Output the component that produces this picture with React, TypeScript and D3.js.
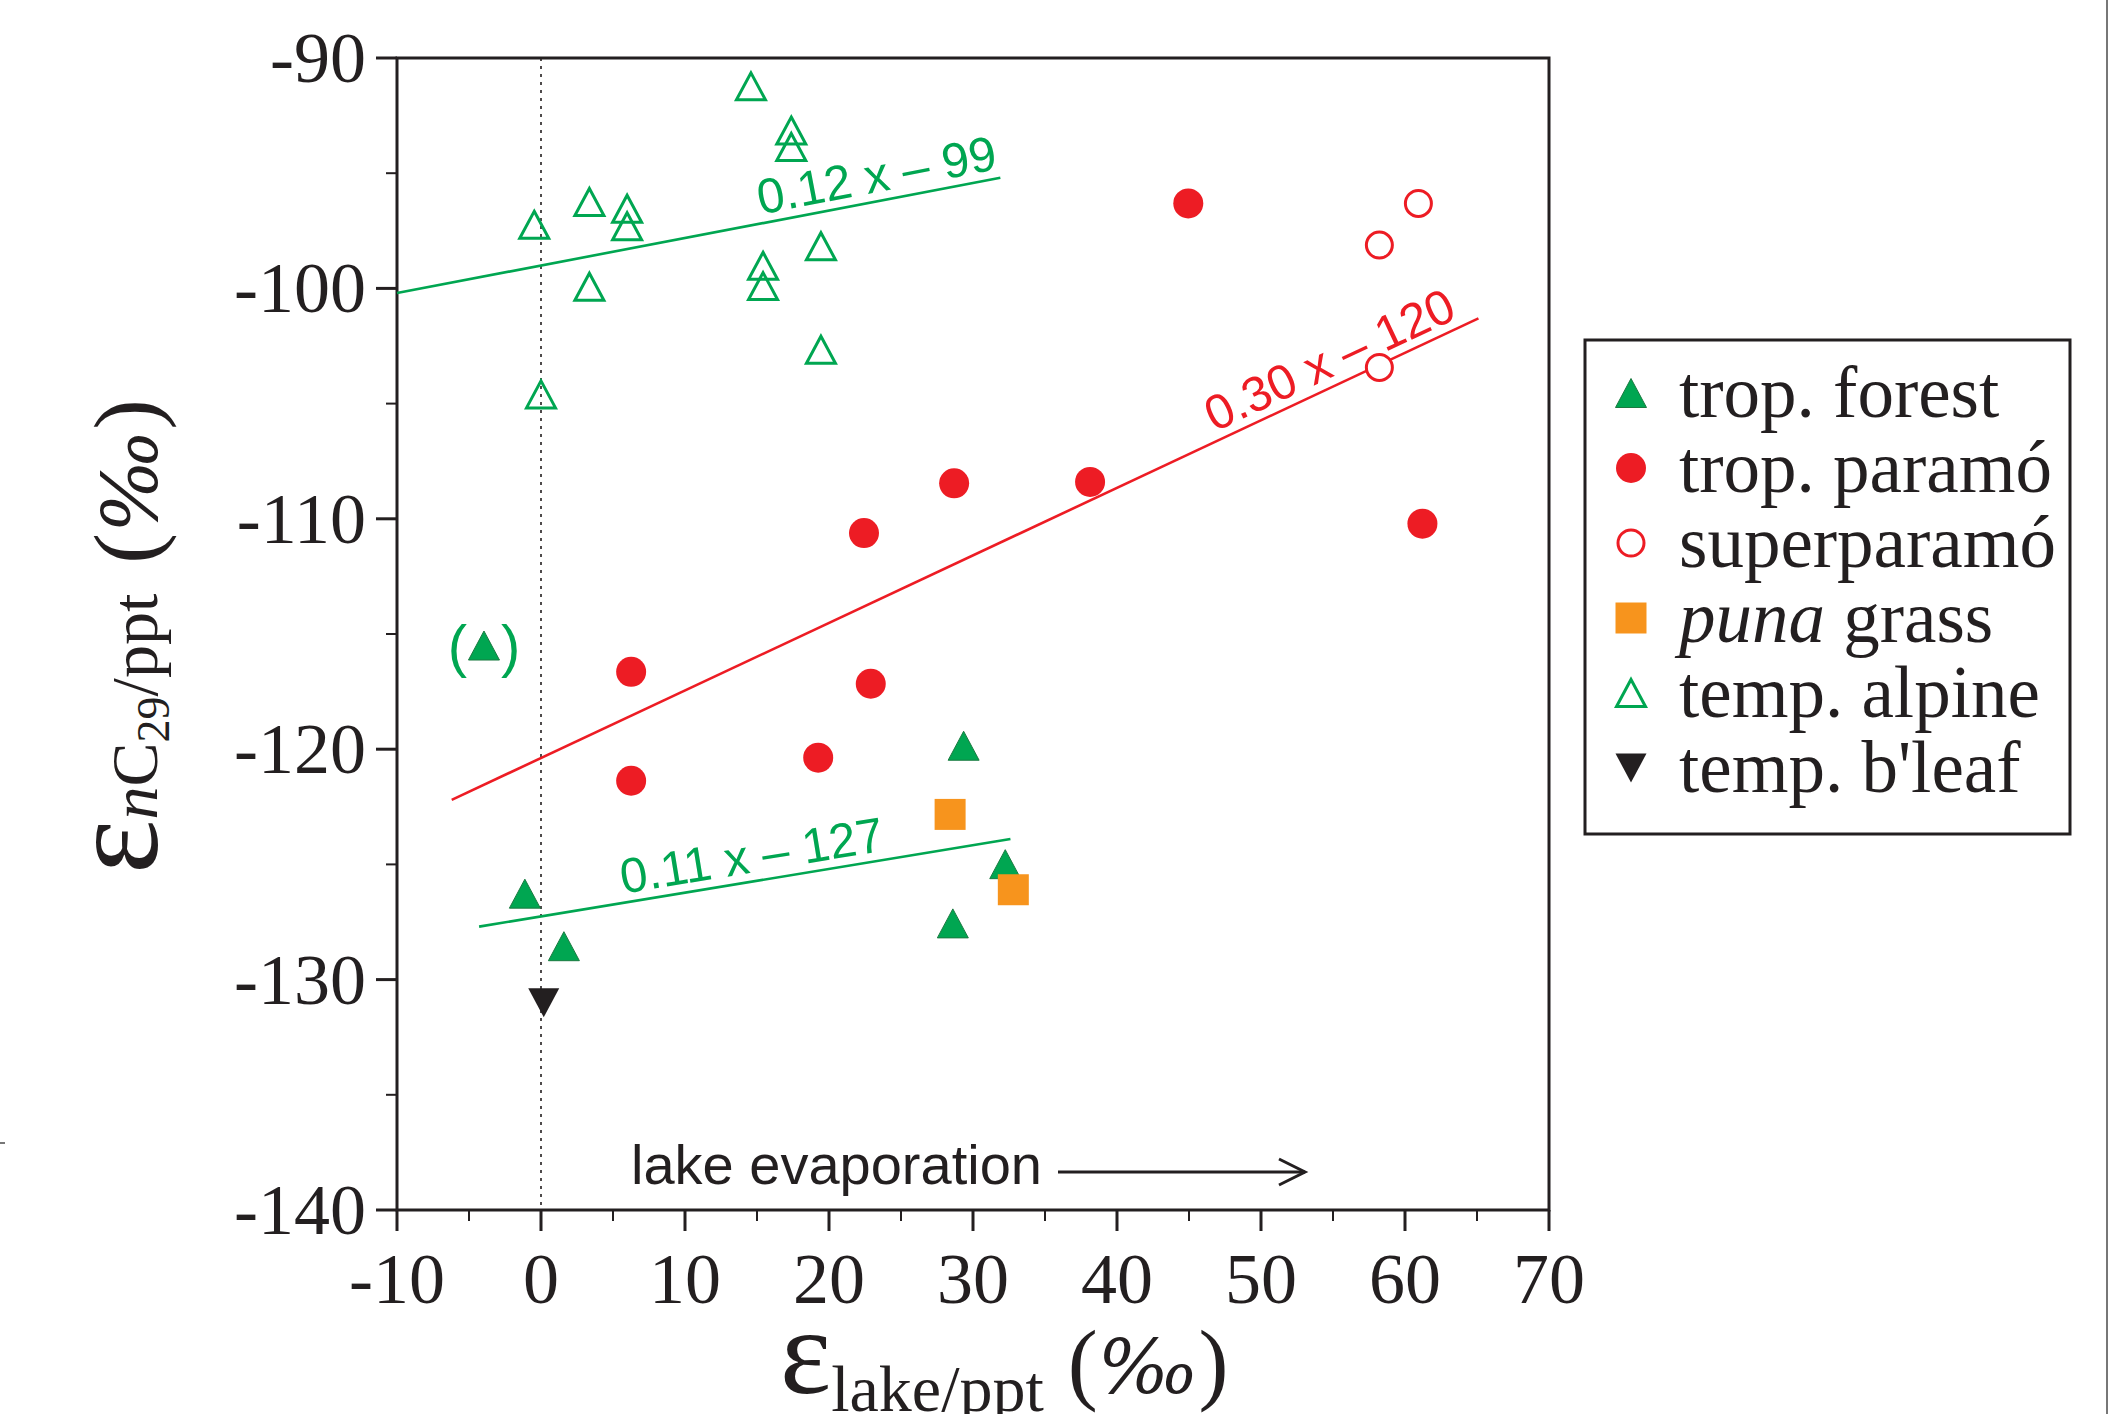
import React from 'react'
import * as d3 from 'd3'

const W = 2110
const H = 1414
const plot = {left: 397, right: 1549, top: 58, bottom: 1210}

const GREEN = '#00a651'
const RED = '#ed1c24'
const ORANGE = '#f7941d'
const INK = '#231f20'
const SERIF = '"Liberation Serif", "Times New Roman", serif'
const SANS = '"Liberation Sans", Arial, sans-serif'
const PERMILLE_FONT = '"DejaVu Serif", serif'

// values: [x = eps lake/ppt, y = eps nC29/ppt]
const tropForest = [[29.35, -119.85], [32.24, -124.99], [28.6, -127.56], [-1.12, -126.27], [1.59, -128.55]]
const tropForestBracketed = [[-3.96, -115.5]]
const tropParamo = [
  [44.95, -96.31], [28.69, -108.46], [38.13, -108.4], [22.43, -110.62], [61.21, -110.21],
  [6.26, -116.64], [22.9, -117.16], [19.25, -120.37], [6.26, -121.37],
]
const superParamo = [[60.93, -96.31], [58.22, -98.12], [58.22, -103.43]]
const punaGrass = [[28.41, -122.83], [32.8, -126.1]]
const tempAlpine = [
  [14.58, -91.23], [17.38, -93.15], [17.38, -93.86], [3.36, -96.25], [5.98, -96.54],
  [5.98, -97.3], [-0.47, -97.24], [3.36, -99.93], [15.42, -99.02], [15.42, -99.9],
  [19.44, -98.17], [19.44, -102.66], [0.0, -104.6],
]
const tempBroadleaf = [[0.19, -131.0]]

// regression lines (end points) and their labels
const alpineFit = [[-10, -100.2], [31.9, -95.2]]
const paramoFit = [[-6.2, -122.2], [65.1, -101.3]]
const forestFit = [[-4.3, -127.7], [32.6, -123.9]]
const fitLabels = ['0.12 x \u2013 99', '0.30 x \u2013 120', '0.11 x \u2013 127']

const legendLabels = ['trop. forest', 'trop. param\u00f3', 'superparam\u00f3', 'puna grass', 'temp. alpine', "temp. b'leaf"]

const xScale = d3.scaleLinear().domain([-10, 70]).range([plot.left, plot.right])
const yScale = d3.scaleLinear().domain([-140, -90]).range([plot.bottom, plot.top])

const tri = (w, h, down = false) => {
  const s = down ? -1 : 1
  return `M0,${-s * h / 2}L${w / 2},${s * h / 2}L${-w / 2},${s * h / 2}Z`
}
const square = (w) => `M${-w / 2},${-w / 2}h${w}v${w}h${-w}Z`

const Marker = ({kind, x, y}) => {
  const t = `translate(${x},${y})`
  switch (kind) {
    case 'forest':
      return <path transform={t} d={tri(31, 29)} fill={GREEN} stroke="#1a7a40" strokeWidth={1}/>
    case 'paramo':
      return <circle cx={x} cy={y} r={15} fill={RED}/>
    case 'super':
      return <circle cx={x} cy={y} r={13} fill="#fff" stroke={RED} strokeWidth={3}/>
    case 'puna':
      return <path transform={t} d={square(31)} fill={ORANGE}/>
    case 'alpine':
      return <path transform={t} d={tri(29, 27)} fill="none" stroke={GREEN} strokeWidth={3}/>
    default:
      return <path transform={t} d={tri(31, 29, true)} fill={INK}/>
  }
}

const FitLine = ({pts, color, label, at, anchor}) => {
  const [[x0, y0], [x1, y1]] = pts
  const px0 = xScale(x0), py0 = yScale(y0), px1 = xScale(x1), py1 = yScale(y1)
  const ang = Math.atan2(py1 - py0, px1 - px0) * 180 / Math.PI
  const ly = y0 + (y1 - y0) * (at - x0) / (x1 - x0)
  return (
    <g>
      <line x1={px0} y1={py0} x2={px1} y2={py1} stroke={color} strokeWidth={2.6}/>
      <text
        transform={`translate(${xScale(at)},${yScale(ly)}) rotate(${ang})`}
        y={-9}
        textAnchor={anchor}
        fontFamily={SANS}
        fontSize={49}
        fill={color}
      >{label}</text>
    </g>
  )
}

const App = () => {
  const xTicks = xScale.ticks(16)
  const yTicks = yScale.ticks(10)
  const legendKinds = ['forest', 'paramo', 'super', 'puna', 'alpine', 'bleaf']

  return (
    <div style={{position: 'absolute', left: 0, top: 0}}>
      <svg width={W} height={H} style={{display: 'block', background: '#fff'}}>
        {/* dotted zero line */}
        <line x1={xScale(0)} x2={xScale(0)} y1={plot.top} y2={plot.bottom}
              stroke={INK} strokeWidth={1.6} strokeDasharray="3,5"/>

        {/* frame */}
        <rect x={plot.left} y={plot.top} width={plot.right - plot.left} height={plot.bottom - plot.top}
              fill="none" stroke={INK} strokeWidth={3}/>

        {/* x ticks */}
        {xTicks.map((v) => {
          const major = v % 10 === 0
          return (
            <g key={'x' + v}>
              <line x1={xScale(v)} x2={xScale(v)} y1={plot.bottom} y2={plot.bottom + (major ? 21 : 11)}
                    stroke={INK} strokeWidth={major ? 3 : 2}/>
              {major && (
                <text x={xScale(v)} y={1303} textAnchor="middle" fontFamily={SERIF} fontSize={72} fill={INK}>{v}</text>
              )}
            </g>
          )
        })}

        {/* y ticks */}
        {yTicks.map((v) => {
          const major = v % 10 === 0
          return (
            <g key={'y' + v}>
              <line x1={plot.left - (major ? 21 : 11)} x2={plot.left} y1={yScale(v)} y2={yScale(v)}
                    stroke={INK} strokeWidth={major ? 3 : 2}/>
              {major && (
                <text x={366} y={yScale(v) + 24} textAnchor="end" fontFamily={SERIF} fontSize={72} fill={INK}>{v}</text>
              )}
            </g>
          )
        })}

        {/* fits */}
        <FitLine pts={alpineFit} color={GREEN} label={fitLabels[0]} at={31.9} anchor="end"/>
        <FitLine pts={paramoFit} color={RED} label={fitLabels[1]} at={64.0} anchor="end"/>
        <FitLine pts={forestFit} color={GREEN} label={fitLabels[2]} at={5.8} anchor="start"/>

        {/* points */}
        {tempAlpine.map(([x, y], i) => <Marker key={'a' + i} kind="alpine" x={xScale(x)} y={yScale(y)}/>)}
        {tropParamo.map(([x, y], i) => <Marker key={'p' + i} kind="paramo" x={xScale(x)} y={yScale(y)}/>)}
        {superParamo.map(([x, y], i) => <Marker key={'s' + i} kind="super" x={xScale(x)} y={yScale(y)}/>)}
        {tropForest.map(([x, y], i) => <Marker key={'f' + i} kind="forest" x={xScale(x)} y={yScale(y)}/>)}
        {punaGrass.map(([x, y], i) => <Marker key={'g' + i} kind="puna" x={xScale(x)} y={yScale(y)}/>)}
        {tempBroadleaf.map(([x, y], i) => <Marker key={'b' + i} kind="bleaf" x={xScale(x)} y={yScale(y)}/>)}
        {tropForestBracketed.map(([x, y], i) => (
          <g key={'fb' + i}>
            <Marker kind="forest" x={xScale(x)} y={yScale(y)}/>
            <text x={xScale(x) - 17} y={yScale(y) + 20} textAnchor="end" fontFamily={SANS} fontSize={58} fill={GREEN}>(</text>
            <text x={xScale(x) + 17} y={yScale(y) + 20} textAnchor="start" fontFamily={SANS} fontSize={58} fill={GREEN}>)</text>
          </g>
        ))}

        {/* lake evaporation arrow */}
        <text x={631} y={1184} fontFamily={SANS} fontSize={56} fill={INK}>lake evaporation</text>
        <line x1={1058} x2={1305} y1={1172} y2={1172} stroke={INK} strokeWidth={3}/>
        <path d="M1279,1159L1305,1172L1279,1185" fill="none" stroke={INK} strokeWidth={3}/>

        {/* axis titles */}
        <text x={780} y={1393} fontFamily={SERIF} fill={INK}>
          <tspan fontSize={122}>&#949;</tspan>
          <tspan fontSize={66} dy={18}>lake/ppt</tspan>
          <tspan fontSize={90} dy={-18} dx={24}>(</tspan>
          <tspan fontSize={75} fontFamily={PERMILLE_FONT} fontStyle="italic">&#8240;</tspan>
          <tspan fontSize={90}>)</tspan>
        </text>
        <text transform="translate(157,874) rotate(-90)" fontFamily={SERIF} fill={INK}>
          <tspan fontSize={130}>&#949;</tspan>
          <tspan fontSize={66} fontStyle="italic">n</tspan>
          <tspan fontSize={66}>C</tspan>
          <tspan fontSize={46} dy={12}>29</tspan>
          <tspan fontSize={66} dy={-12}>/ppt</tspan>
          <tspan fontSize={92} dx={30}>(</tspan>
          <tspan fontSize={77} fontFamily={PERMILLE_FONT} fontStyle="italic">&#8240;</tspan>
          <tspan fontSize={92}>)</tspan>
        </text>

        {/* legend */}
        <rect x={1585} y={340} width={485} height={494} fill="#fff" stroke={INK} strokeWidth={3}/>
        {legendLabels.map((lab, i) => {
          const cy = 393 + i * 75
          return (
            <g key={lab}>
              <Marker kind={legendKinds[i]} x={1631} y={cy}/>
              <text x={1679} y={cy + 24} fontFamily={SERIF} fontSize={73} fill={INK}>
                {i === 3 ? (<><tspan fontStyle="italic">puna</tspan> grass</>) : lab}
              </text>
            </g>
          )
        })}

        {/* page edge marks */}
        <line x1={2107} x2={2107} y1={0} y2={H} stroke="#777" strokeWidth={2}/>
        <line x1={0} x2={5} y1={1143} y2={1143} stroke="#777" strokeWidth={2}/>
      </svg>
    </div>
  )
}

export default App
